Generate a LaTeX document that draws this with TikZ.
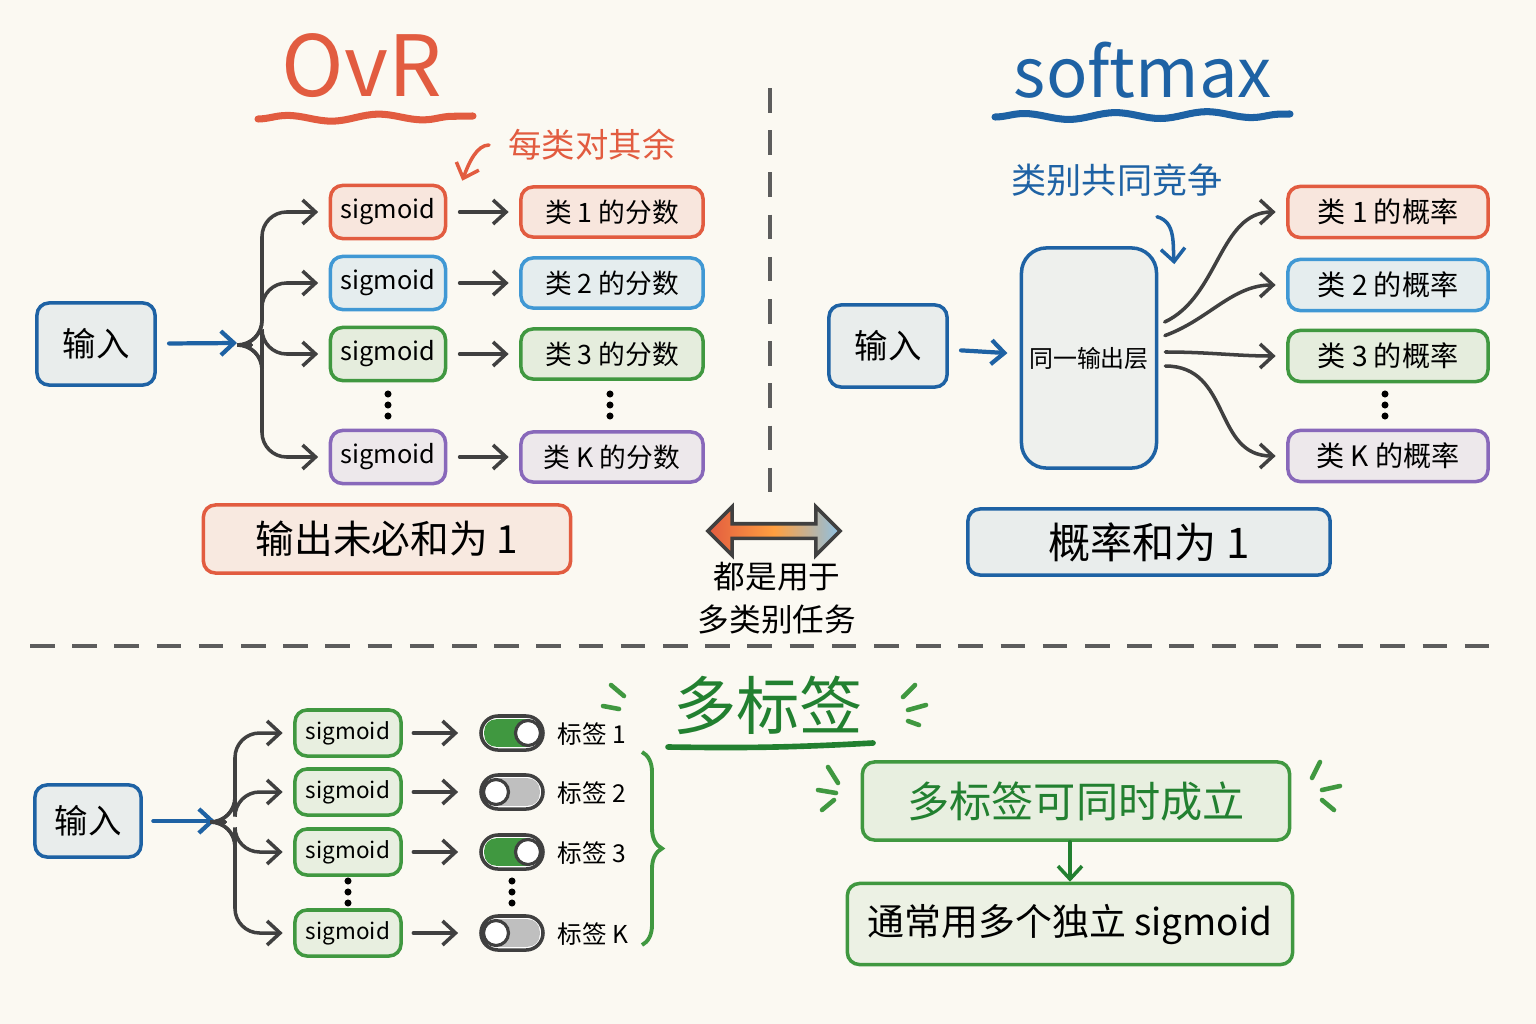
\documentclass[tikz,border=0pt]{standalone}
\usepackage{fontspec}
\setmainfont{Noto Sans CJK SC}
\definecolor{red1}{RGB}{226, 92, 64}
\definecolor{blue1}{RGB}{30, 98, 164}
\definecolor{blue2}{RGB}{64, 152, 212}
\definecolor{green1}{RGB}{64, 152, 64}
\definecolor{green2}{RGB}{34, 128, 48}
\definecolor{purple1}{RGB}{136, 104, 186}
\definecolor{gray1}{RGB}{64, 64, 64}
\definecolor{paper}{RGB}{251, 249, 242}
\usetikzlibrary{shapes, arrows.meta, positioning, calc, decorations.pathreplacing, decorations.pathmorphing}

\tikzset{
  box/.style={draw, rounded corners=0.12cm, line width=1pt, inner sep=0pt, align=center},
  inbox/.style={box, draw=blue1, fill=blue1!8!paper, minimum width=1.18cm, minimum height=0.82cm, font=\fontsize{9.5}{11}\selectfont},
  sigbox/.style={box, minimum width=1.15cm, minimum height=0.53cm, font=\fontsize{7.2}{9}\selectfont},
  clsbox/.style={box, minimum width=1.82cm, minimum height=0.5cm, font=\fontsize{7.6}{10}\selectfont},
  probbox/.style={box, minimum width=2cm, minimum height=0.51cm, font=\fontsize{8}{10}\selectfont},
  msigbox/.style={box, draw=green1, fill=green1!10!paper, minimum width=1.06cm, minimum height=0.46cm, font=\fontsize{6.4}{8}\selectfont},
  conn/.style={gray1, line width=1pt, line cap=round, -{Straight Barb[length=1.3mm, width=2.4mm]}},
  inarrow/.style={conn, blue1, line width=1.2pt},
  toggle/.style={draw=gray1, line width=1pt, fill=white, rounded corners=0.17cm, minimum width=0.62cm, minimum height=0.34cm, inner sep=0pt},
  knob/.style={circle, draw=gray1, line width=0.9pt, fill=white, minimum size=0.25cm, inner sep=0pt},
  sep/.style={gray1!85, line width=0.9pt, dash pattern=on 7pt off 5pt},
  spark/.style={green1, line width=1.3pt, line cap=round},
  wavy/.style={line width=2pt, line cap=round, decorate, decoration={snake, amplitude=0.9pt, segment length=26pt}},
}

\begin{document}
\begin{tikzpicture}[x=0.01cm, y=-0.01cm]
  \fill[paper] (0,0) rectangle (1536,1024);
  \useasboundingbox (0,0) rectangle (1536,1024);

  % OvR
  \node[text=red1, font=\fontsize{24}{28}\selectfont] (ovr) at (362,66) {OvR};
  \draw[red1, wavy] (258,119) -- (473,116);
  \node[text=red1, font=\fontsize{9.5}{11}\selectfont] (cap1) at (592,145) {每类对其余};

  \node[inbox] (in1) at (96,344) {输入};
  \coordinate (j1) at (237,343);
  \coordinate (b1) at (262,345);
  \draw[inarrow, shorten <=3.5pt] (in1) -- (j1);

  \foreach \i/\yy/\col/\lab in {1/212/red1/1, 2/283/blue2/2, 3/354/green1/3, 4/457/purple1/K} {
    \node[sigbox, draw=\col, fill=\col!12!paper] (s\i) at (388,\yy) {sigmoid};
    \node[clsbox, draw=\col, fill=\col!12!paper] (c\i) at (612,\yy) {类 \lab{} 的分数};
    \draw[conn, rounded corners=7pt, shorten >=3pt] ($(b1)+(-11,0)$) -- (b1) |- (s\i.west);
    \draw[conn, shorten <=3.5pt, shorten >=3pt] (s\i) -- (c\i);
  }
  \foreach \x in {388, 610} \foreach \y in {394, 405, 416} \fill[black] (\x,\y) circle (1pt);
  \draw[conn, red1, shorten <=2pt] (cap1.west) to[out=180, in=70] ($(s1.north east)+(15,-3)$);

  \node[box, draw=red1, fill=red1!10!paper, minimum width=3.67cm, minimum height=0.68cm, font=\fontsize{11}{13}\selectfont] (sum1) at (387,539) {输出未必和为 1};

  % middle
  \draw[sep] (770,88) -- (770,495);
  \node[double arrow, draw=gray1, line width=1pt, double arrow head extend=0.17cm, minimum height=1.32cm, inner sep=0.055cm, left color=red1, right color=blue2!60, middle color=orange!75] (both) at (774,531) {};
  \node[font=\fontsize{9}{12.3}\selectfont, align=center] (same) at (777,598) {都是用于\\多类别任务};
  \draw[sep] (30,646) -- (1505,646);

  % softmax
  \node[text=blue1, font=\fontsize{19.5}{24}\selectfont] (smx) at (1143,70) {softmax};
  \draw[blue1, wavy] (995,117) -- (1290,114);
  \node[text=blue1, font=\fontsize{10}{12}\selectfont] (cap2) at (1117,180) {类别共同竞争};

  \node[inbox] (in2) at (888,346) {输入};
  \node[box, draw=blue1, fill=blue1!6!paper, rounded corners=0.25cm, minimum width=1.35cm, minimum height=2.2cm, font=\fontsize{6.8}{8}\selectfont] (layer) at (1089,358) {同一输出层};
  \draw[inarrow, shorten <=3.5pt, shorten >=3.5pt] (in2) -- (layer);
  \draw[conn, blue1] ($(cap2.south)+(40,8)$) to[out=-15, in=95] ($(layer.north east)+(16,18)$);

  \foreach \i/\yy/\col/\lab in {1/212/red1/1, 2/285/blue2/2, 3/356/green1/3, 4/456/purple1/K} {
    \node[probbox, draw=\col, fill=\col!12!paper] (p\i) at (1388,\yy) {类 \lab{} 的概率};
  }
  \draw[conn, shorten <=2pt, shorten >=3pt] ([yshift=0.33cm]layer.east) to[out=25, in=180] (p1.west);
  \draw[conn, shorten <=2pt, shorten >=3pt] ([yshift=0.2cm]layer.east) to[out=20, in=180] (p2.west);
  \draw[conn, shorten <=2pt, shorten >=3pt] ([yshift=0.06cm]layer.east) to[out=0, in=180] (p3.west);
  \draw[conn, shorten <=2pt, shorten >=3pt] ([yshift=-0.08cm]layer.east) to[out=0, in=180, looseness=1.2] (p4.west);
  \foreach \y in {394, 405, 416} \fill[black] (1385,\y) circle (1pt);

  \node[box, draw=blue1, fill=blue1!8!paper, minimum width=3.62cm, minimum height=0.66cm, font=\fontsize{12}{14}\selectfont] (sum2) at (1149,542) {概率和为 1};

  % multi-label
  \node[inbox, minimum width=1.06cm, minimum height=0.72cm] (in3) at (88,821) {输入};
  \coordinate (j3) at (215,821);
  \coordinate (b3) at (235,822);
  \draw[inarrow, shorten <=3pt] (in3) -- (j3);

  \foreach \i/\yy/\col/\kx/\lab in {1/733/green1/16/1, 2/792/gray!50/-16/2, 3/852/green1/16/3, 4/933/gray!50/-16/K} {
    \node[msigbox] (m\i) at (348,\yy) {sigmoid};
    \node[toggle] (t\i) at (512,\yy) {};
    \fill[\col, rounded corners=0.12cm] ($(t\i.south west)+(5,-5)$) rectangle ($(t\i.north east)+(-5,5)$);
    \node[knob] (k\i) at ($(t\i.center)+(\kx,0)$) {};
    \node[anchor=west, inner sep=0pt, font=\fontsize{7}{9}\selectfont] (l\i) at ($(t\i.east)+(12,1)$) {标签 \lab};
    \draw[conn, rounded corners=7pt, shorten >=3pt] ($(b3)+(-10,0)$) -- (b3) |- (m\i.west);
    \draw[conn, shorten <=3pt, shorten >=6pt] (m\i) -- (t\i);
  }
  \foreach \x in {348, 512} \foreach \y in {881, 892, 903} \fill[black] (\x,\y) circle (1pt);
  \draw[green1, line width=1.1pt, decorate, decoration={brace, amplitude=0.2cm}] (642,752) -- (642,945);

  \node[text=green2, font=\fontsize{18}{22}\selectfont] (ml) at (768,705) {多标签};
  \draw[green2, line width=1.6pt, line cap=round] (668,747) to[bend right=2] (873,743);
  \draw[spark] (611,685) -- (624,696) (603,706) -- (619,709);
  \draw[spark] (915,685) -- (903,697) (926,705) -- (908,710) (919,725) -- (908,721);

  \node[box, draw=green1, fill=green1!10!paper, minimum width=4.27cm, minimum height=0.78cm, text=green2, font=\fontsize{12}{14}\selectfont] (g1) at (1076,801) {多标签可同时成立};
  \node[box, draw=green1, fill=green1!8!paper, minimum width=4.45cm, minimum height=0.81cm, font=\fontsize{10.5}{12}\selectfont] (g2) at (1070,924) {通常用多个独立 sigmoid};
  \draw[conn, green2] (g1.south -| g2.north) -- (g2.north);
  \draw[spark] (828,767) -- (838,783) (818,790) -- (836,793) (822,810) -- (834,800);
  \draw[spark] (1320,762) -- (1312,778) (1340,786) -- (1322,790) (1334,810) -- (1322,800);
\end{tikzpicture}
\end{document}
